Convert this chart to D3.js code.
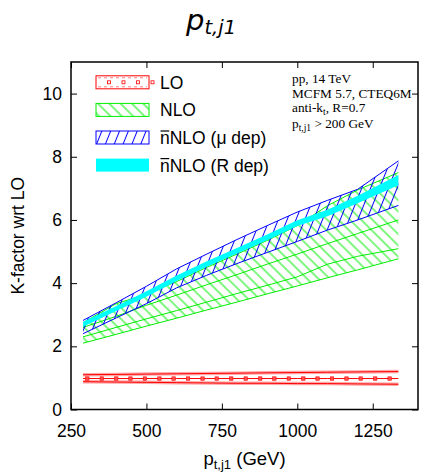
<!DOCTYPE html>
<html><head><meta charset="utf-8">
<script src="https://cdn.jsdelivr.net/npm/d3@7"></script>
<style>body{margin:0;background:#fff}</style>
</head><body><svg id="c" width="421" height="472"></svg>
<script>
// ---- data ----
const xBand     = [290, 400, 500, 600, 700, 800, 900, 1000, 1100, 1200, 1335];
const loUpper   = [1.10, 1.11, 1.12, 1.13, 1.14, 1.15, 1.16, 1.17, 1.18, 1.19, 1.20];
const loCentral = [0.98, 0.98, 0.98, 0.98, 0.98, 0.98, 0.98, 0.98, 0.98, 0.98, 0.98];
const loLower   = [0.88, 0.87, 0.86, 0.85, 0.84, 0.83, 0.83, 0.82, 0.82, 0.81, 0.80];
const loMarkerX = [304, 352, 400, 447, 495, 543, 590, 638, 686, 733, 781, 829, 877, 924, 972, 1020, 1067, 1115, 1163, 1210, 1258, 1306];
const nloLower  = [2.10, 2.38, 2.64, 2.89, 3.15, 3.40, 3.66, 3.91, 4.17, 4.42, 4.77];
const nloInner2 = [2.30, 2.60, 2.87, 3.13, 3.40, 3.67, 3.93, 4.20, 4.60, 4.85, 5.09];
const nloInner1 = [2.60, 2.95, 3.30, 3.62, 3.95, 4.27, 4.60, 4.92, 5.25, 5.57, 6.00];
const nloUpper  = [2.75, 3.35, 3.65, 4.05, 4.50, 4.92, 5.35, 5.82, 6.45, 6.95, 7.50];
const muUpper   = [2.82, 3.38, 3.90, 4.45, 4.92, 5.38, 5.82, 6.25, 6.62, 6.97, 7.87];
const muLower   = [2.40, 2.90, 3.35, 3.85, 4.25, 4.62, 4.97, 5.32, 5.68, 6.00, 6.46];
const rUpper    = [2.78, 3.28, 3.74, 4.24, 4.69, 5.11, 5.54, 5.99, 6.32, 6.77, 7.42];
const rLower    = [2.62, 3.12, 3.57, 4.07, 4.52, 4.94, 5.36, 5.81, 6.12, 6.53, 7.10];
const xTicks = [250, 500, 750, 1000, 1250];
const yTicks = [0, 2, 4, 6, 8, 10];

const svg = d3.select("#c");
const W = 421, H = 472;
const m = {l: 71, r: 418, t: 62, b: 409.5};
const x = d3.scaleLinear().domain([250, 1400]).range([m.l, m.r]);
const y = d3.scaleLinear().domain([0, 11]).range([m.b, m.t]);

const RED = "#ff0000", GREEN = "#00ee00", BLUE = "#0000ff", CYAN = "#00ffff";
const sans = "'Liberation Sans', Arial, sans-serif";
const serif = "'Liberation Serif', 'Times New Roman', serif";

svg.append("rect").attr("width", W).attr("height", H).attr("fill", "#fff");

const defs = svg.append("defs");
function hatch(id, color, spacing, angle) {
  const p = defs.append("pattern").attr("id", id).attr("patternUnits", "userSpaceOnUse")
    .attr("width", spacing).attr("height", 10).attr("patternTransform", `rotate(${angle})`);
  p.append("line").attr("x1", spacing / 2).attr("x2", spacing / 2).attr("y1", -1).attr("y2", 11)
    .attr("stroke", color).attr("stroke-width", 1);
}
hatch("hG", GREEN, 8.0, -45);
hatch("hB", BLUE, 8.2, 22);
defs.append("clipPath").attr("id", "clip").append("rect")
  .attr("x", m.l).attr("y", m.t).attr("width", m.r - m.l).attr("height", m.b - m.t);

const rows = (lo, hi) => xBand.map((v, i) => ({x: v, lo: lo[i], hi: hi[i]}));
const area = d3.area().x(d => x(d.x)).y0(d => y(d.lo)).y1(d => y(d.hi));
const line = d3.line().x(d => x(d.x)).y(d => y(d.v));
const lrow = arr => xBand.map((v, i) => ({x: v, v: arr[i]}));

const g = svg.append("g").attr("clip-path", "url(#clip)");

// LO band
[loUpper, loLower].forEach(a => {
  g.append("path").attr("d", line(lrow(a))).attr("fill", "none").attr("stroke", RED)
    .attr("stroke-opacity", 0.35).attr("stroke-width", 3.5);
  g.append("path").attr("d", line(lrow(a))).attr("fill", "none").attr("stroke", RED).attr("stroke-width", 1);
});
g.append("path").attr("d", line(lrow(loCentral))).attr("fill", "none").attr("stroke", RED).attr("stroke-width", 1);
const loC = d3.scaleLinear().domain(xBand).range(loCentral);
g.selectAll("rect.lom").data(loMarkerX).join("rect").attr("class", "lom")
  .attr("x", d => x(d) - 1.7).attr("y", d => y(loC(d)) - 1.7).attr("width", 3.4).attr("height", 3.4)
  .attr("fill", "#ff5050").attr("stroke", RED).attr("stroke-width", 0.6);

// NLO band
g.append("path").attr("d", area(rows(nloLower, nloUpper))).attr("fill", "url(#hG)");
[nloLower, nloInner2, nloInner1, nloUpper].forEach(a =>
  g.append("path").attr("d", line(lrow(a))).attr("fill", "none").attr("stroke", GREEN).attr("stroke-width", 1));

// nNLO mu band
g.append("path").attr("d", area(rows(muLower, muUpper))).attr("fill", "url(#hB)");
[muLower, muUpper].forEach(a =>
  g.append("path").attr("d", line(lrow(a))).attr("fill", "none").attr("stroke", BLUE).attr("stroke-width", 1));

// nNLO R band
g.append("path").attr("d", area(rows(rLower, rUpper))).attr("fill", CYAN);

// axes
const ax = (gen, tx, ty, labels) => {
  const a = svg.append("g").attr("transform", `translate(${tx},${ty})`).call(gen);
  a.select(".domain").remove();
  a.selectAll("line").attr("stroke", "#000").attr("stroke-width", 1);
  a.selectAll("text").attr("font-family", sans).attr("font-size", 17.5).attr("fill", "#000");
  if (!labels) a.selectAll("text").remove();
  return a;
};
const fmt = d3.format("d");
ax(d3.axisBottom(x).tickValues(xTicks).tickFormat(fmt).tickSize(-6).tickPadding(15.5), 0, m.b, true);
ax(d3.axisTop(x).tickValues(xTicks).tickSize(-6), 0, m.t, false);
ax(d3.axisLeft(y).tickValues(yTicks).tickFormat(fmt).tickSize(-6).tickPadding(9), m.l, 0, true);
ax(d3.axisRight(y).tickValues(yTicks).tickSize(-6), m.r, 0, false);
svg.append("rect").attr("x", m.l).attr("y", m.t).attr("width", m.r - m.l).attr("height", m.b - m.t)
  .attr("fill", "none").attr("stroke", "#000").attr("stroke-width", 1.5);

// axis titles
svg.append("text").attr("transform", `translate(18,${(m.t + m.b) / 2}) rotate(-90)`)
  .attr("text-anchor", "middle").attr("dominant-baseline", "central")
  .attr("font-family", sans).attr("font-size", 17.5).text("K-factor wrt LO");
const xl = svg.append("text").attr("x", (m.l + m.r) / 2).attr("y", 465).attr("text-anchor", "middle")
  .attr("font-family", sans).attr("font-size", 18.5);
xl.append("tspan").text("p");
xl.append("tspan").attr("font-size", 13).attr("dy", 4).text("t,j1");
xl.append("tspan").attr("dy", -4).text(" (GeV)");

// title
const tt = svg.append("text").attr("x", 211).attr("y", 30).attr("text-anchor", "middle")
  .attr("font-family", "'DejaVu Sans', sans-serif").attr("font-style", "italic").attr("font-size", 29);
tt.append("tspan").text("p");
tt.append("tspan").attr("font-size", 19.5).attr("dy", 4).text("t,j1");

// annotation
const ann = svg.append("g").attr("font-family", serif).attr("font-size", 13.3);
ann.append("text").attr("x", 292).attr("y", 82.5).text("pp, 14 TeV");
ann.append("text").attr("x", 292).attr("y", 97.5).text("MCFM 5.7, CTEQ6M");
const a3 = ann.append("text").attr("x", 292).attr("y", 112);
a3.append("tspan").text("anti-k");
a3.append("tspan").attr("font-size", 9.5).attr("dy", 3).text("t");
a3.append("tspan").attr("dy", -3).text(", R=0.7");
const a4 = ann.append("text").attr("x", 292).attr("y", 127.5);
a4.append("tspan").text("p");
a4.append("tspan").attr("font-size", 9.5).attr("dy", 3).text("t,j1");
a4.append("tspan").attr("dy", -3).text(" > 200 GeV");

// legend
const legend = [
  {label: "LO", type: "lo"},
  {label: "NLO", type: "nlo"},
  {label: "NLO (\u03bc dep)", type: "mu", bar: true},
  {label: "NLO (R dep)", type: "r", bar: true}
];
const bx = 96, bw = 53, bh = 13;
legend.forEach((d, i) => {
  const cy = 82.3 + i * 27.6;
  const lg = svg.append("g");
  if (d.type === "lo") {
    lg.append("rect").attr("x", bx).attr("y", cy - bh / 2).attr("width", bw).attr("height", bh)
      .attr("fill", "none").attr("stroke", RED).attr("stroke-width", 1);
    [cy - bh / 2 + 2, cy + bh / 2 - 2].forEach(yy =>
      lg.append("line").attr("x1", bx + 2).attr("x2", bx + bw - 2).attr("y1", yy).attr("y2", yy)
        .attr("stroke", RED).attr("stroke-opacity", 0.5).attr("stroke-dasharray", "3,3"));
    [0, 1, 2, 3].forEach(k => lg.append("rect").attr("x", bx + 13 + k * 14.5 - 1.5).attr("y", cy - 1.5)
      .attr("width", 3).attr("height", 3).attr("fill", "none").attr("stroke", RED).attr("stroke-width", 0.8));
  } else if (d.type === "nlo") {
    lg.append("rect").attr("x", bx).attr("y", cy - bh / 2).attr("width", bw).attr("height", bh)
      .attr("fill", "url(#hG)").attr("stroke", GREEN).attr("stroke-width", 1);
  } else if (d.type === "mu") {
    lg.append("rect").attr("x", bx).attr("y", cy - bh / 2).attr("width", bw).attr("height", bh)
      .attr("fill", "url(#hB)").attr("stroke", BLUE).attr("stroke-width", 1);
  } else {
    lg.append("rect").attr("x", bx).attr("y", cy - bh / 2).attr("width", bw).attr("height", bh)
      .attr("fill", CYAN);
  }
  const label = d.bar ? "n" + d.label : d.label;
  const t = lg.append("text").attr("x", 160).attr("y", cy + 6.5).attr("font-family", sans)
    .attr("font-size", 17.5).text(label);
  if (d.bar) {
    const w = t.node().getSubStringLength(0, 1);
    lg.append("line").attr("x1", 160.5).attr("x2", 160 + w - 0.5)
      .attr("y1", cy + 6.5 - 13).attr("y2", cy + 6.5 - 13).attr("stroke", "#000").attr("stroke-width", 1.2);
  }
});
</script>
</body></html>
